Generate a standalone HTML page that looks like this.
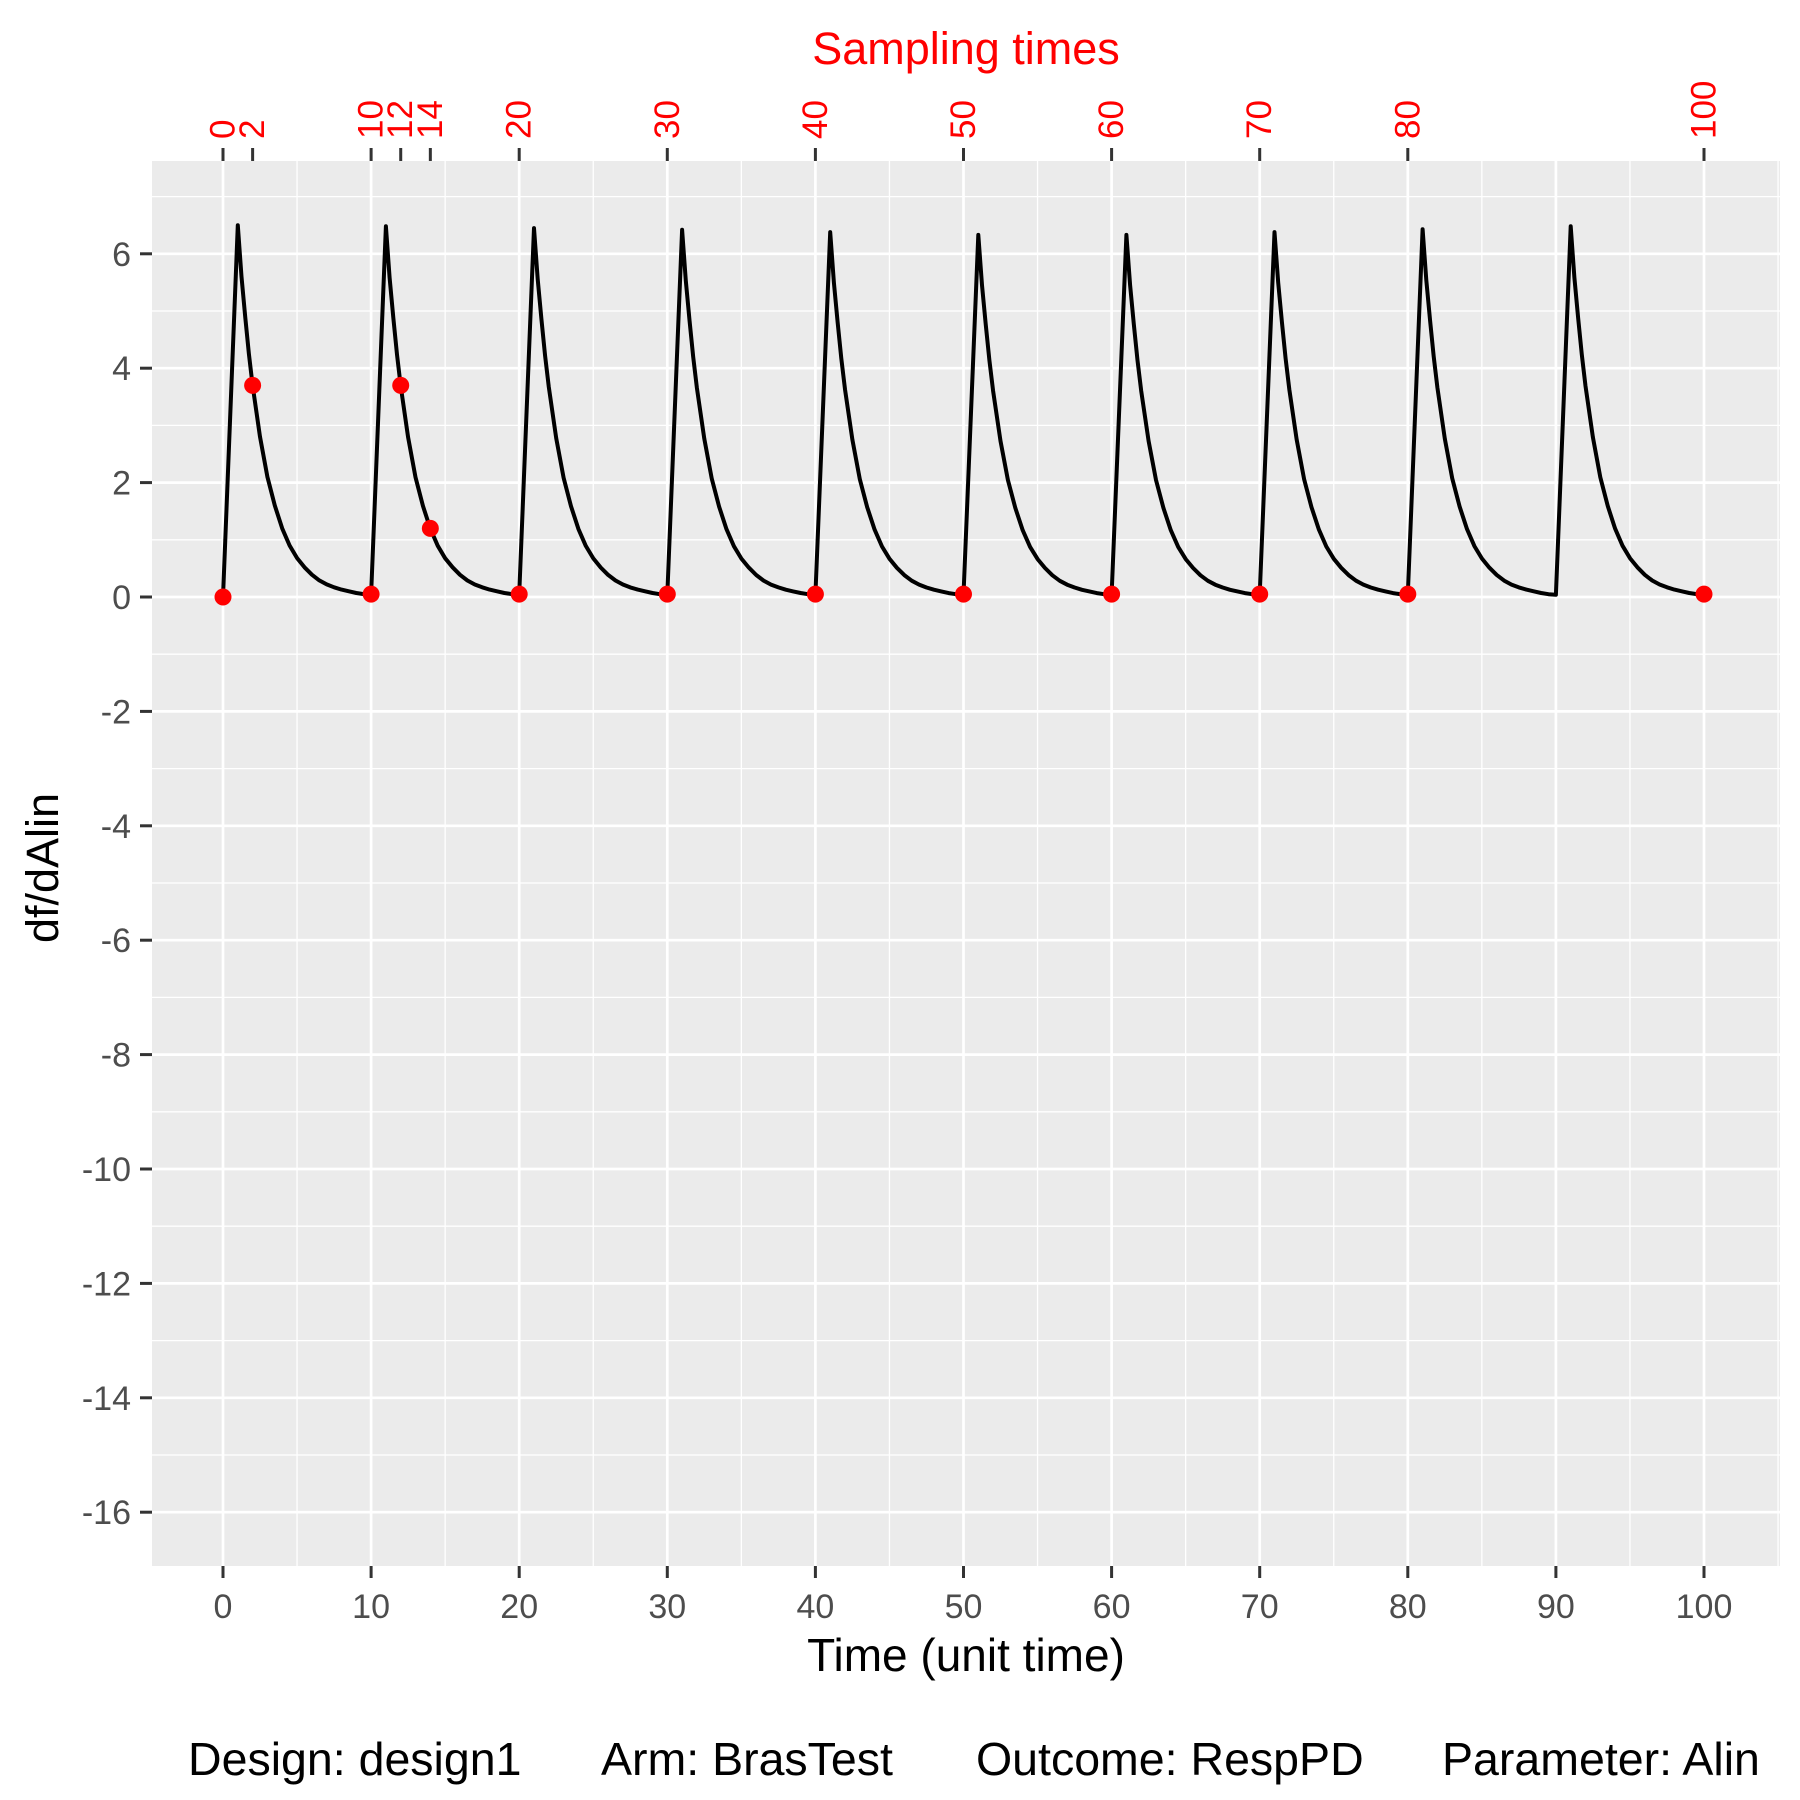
<!DOCTYPE html>
<html><head><meta charset="utf-8"><style>
html,body{margin:0;padding:0;background:#fff}
svg{display:block;font-family:"Liberation Sans",Arial,sans-serif}
</style></head><body>
<svg id="chart" width="1800" height="1800" viewBox="0 0 1800 1800">
<rect x="152" y="161" width="1628" height="1405" fill="#EBEBEB"/>
<g id="grid"></g>
<g id="series"></g>
<g id="axes"></g>
<text x="966" y="64" font-size="45" fill="#FF0000" text-anchor="middle">Sampling times</text>
<text x="966" y="1671" font-size="46" fill="#000" text-anchor="middle">Time (unit time)</text>
<text transform="translate(58,868) rotate(-90)" font-size="45" fill="#000" text-anchor="middle">df/dAlin</text>
<g font-size="46.5" fill="#000">
<text x="188" y="1775">Design: design1</text>
<text x="601" y="1775">Arm: BrasTest</text>
<text x="976" y="1775">Outcome: RespPD</text>
<text x="1442" y="1775">Parameter: Alin</text>
</g>
</svg>
<script>
const xTicks = [0,10,20,30,40,50,60,70,80,90,100];
const yTicks = [6,4,2,0,-2,-4,-6,-8,-10,-12,-14,-16];
const doseTimes = [0,10,20,30,40,50,60,70,80,90];
const peakValues = [6.5,6.48,6.45,6.42,6.38,6.33,6.33,6.38,6.43,6.48];
const shapeOffsets = [0,1,1.25,1.5,1.75,2,2.5,3,3.5,4,4.5,5,5.5,6,6.5,7,7.5,8,8.5,9,9.5,10];
const shapeValues = [0,6.5,5.6,4.9,4.25,3.7,2.8,2.1,1.6,1.2,0.9,0.68,0.52,0.39,0.29,0.22,0.17,0.13,0.1,0.07,0.05,0.04];
const sampleTimes = [0,2,10,12,14,20,30,40,50,60,70,80,100];
const sampleValues = [0,3.7,0.05,3.7,1.2,0.05,0.05,0.05,0.05,0.05,0.05,0.05,0.05];

const NS='http://www.w3.org/2000/svg';
const X0=152,X1=1780,Y0=161,Y1=1566;
const x=t=>223+14.81*t;
const y=v=>597-57.2*v;
function mk(tag,attrs,parent){const e=document.createElementNS(NS,tag);for(const k in attrs)e.setAttribute(k,attrs[k]);parent.appendChild(e);return e;}
const grid=document.getElementById('grid'),axes=document.getElementById('axes'),series=document.getElementById('series');
for(let i=0;i<xTicks.length;i++){const t=xTicks[i]+5;const px=x(t);if(px>X0&&px<X1){const l=mk('line',{x1:px,x2:px,y1:Y0,y2:Y1,stroke:'#fff','stroke-width':1.3},grid);

}}
for(let i=0;i<yTicks.length;i++){const v=yTicks[i]+1;const py=y(v);if(py>Y0&&py<Y1){const l=mk('line',{x1:X0,x2:X1,y1:py,y2:py,stroke:'#fff','stroke-width':1.3},grid);

}}
{const py=y(-17);if(py<Y1){const l=mk('line',{x1:X0,x2:X1,y1:py,y2:py,stroke:'#fff','stroke-width':1.3},grid);

}}
xTicks.forEach(t=>{const px=x(t);
const l=mk('line',{x1:px,x2:px,y1:Y0,y2:Y1,stroke:'#fff','stroke-width':2.7},grid);


const tk=mk('line',{x1:px,x2:px,y1:Y1,y2:Y1+12,stroke:'#333','stroke-width':3},axes);


const tx=mk('text',{x:px,y:1618,'font-size':34,fill:'#4D4D4D','text-anchor':'middle'},axes);tx.textContent=t;

});
yTicks.forEach(v=>{const py=y(v);
const l=mk('line',{x1:X0,x2:X1,y1:py,y2:py,stroke:'#fff','stroke-width':2.7},grid);


const tk=mk('line',{x1:X0-12,x2:X0,y1:py,y2:py,stroke:'#333','stroke-width':3},axes);


const tx=mk('text',{x:131,y:py+12,'font-size':34,fill:'#4D4D4D','text-anchor':'end'},axes);tx.textContent=v;

});
sampleTimes.forEach(t=>{const px=x(t);
const tk=mk('line',{x1:px,x2:px,y1:Y0-13,y2:Y0,stroke:'#333','stroke-width':3},axes);


const tx=mk('text',{'font-size':35,fill:'#FF0000','dominant-baseline':'central',transform:`translate(${px},139) rotate(-90)`},axes);tx.textContent=t;

});
let d='';
doseTimes.forEach((t0,i)=>{shapeOffsets.forEach((o,j)=>{const v=shapeValues[j]*peakValues[i]/6.5;
let val=v; if(j===0&&i>0) val=shapeValues[shapeValues.length-1];
d+=(d?'L':'M')+x(t0+o).toFixed(1)+','+y(val).toFixed(1);});});
const p=mk('path',{d:d,fill:'none',stroke:'#000','stroke-width':4,'stroke-linejoin':'round'},series);


sampleTimes.forEach((t,i)=>{const c=mk('circle',{cx:x(t),cy:y(sampleValues[i]),r:8.5,fill:'#FF0000'},series);

});
</script>
</body></html>
